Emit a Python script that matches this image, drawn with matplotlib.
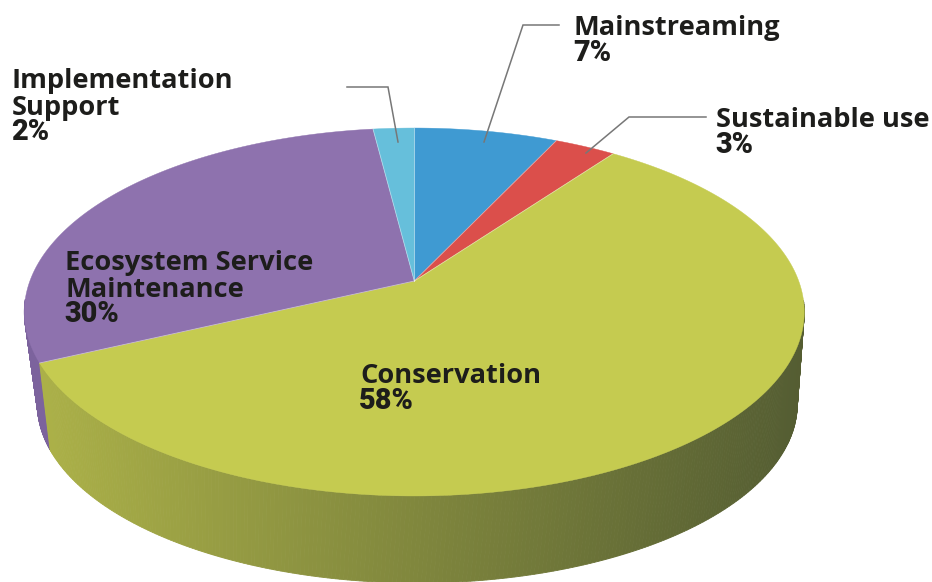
import matplotlib
matplotlib.use('Agg')
import matplotlib.pyplot as plt
import numpy as np

NAMES = ['Mainstreaming', 'Sustainable use', 'Conservation', 'Ecosystem Service\nMaintenance', 'Implementation\nSupport']
VALUES = [7, 3, 58, 30, 2]
COLORS = ['#3f9ad2', '#db4f4b', '#c5cb50', '#8e72ae', '#66bfdb']
LABEL_POS = [(574, 35), (716, 127), (360, 383), (65, 270), (12, 88)]
LEADERS = [
    [(559, 25), (523, 25), (484, 142)],
    [(706, 117), (629, 117), (586, 153)],
    None,
    None,
    [(347, 87), (388, 87), (398, 142)],
]

# perspective of the pie top, in pixels
CX, APEX_Y, R = 414.3, 281, 384.4
K, A = 0.1685, -131.4


def project(theta):
    # theta clockwise from 12 o'clock
    u, v = np.sin(theta), np.cos(theta)
    d = 1 + K * v
    return CX + R * u / d, (A * v + APEX_Y) / d


def lower(theta):
    # rim of the bottom face, nudged so the seam lands where it does in the picture
    x, y = project(theta + 0.02)
    return 418 + (x - 415) * 380 / 390, 404 + (y - 312) * 179 / 184


def side_color(x, base):
    t = np.clip((x - 40) / 760, 0, 1)
    light = np.array([0.87, 0.87, 0.90])
    dark = np.array([0.43, 0.46, 0.63])
    return tuple(np.array(base) * (light + (dark - light) * t))


fig = plt.figure(figsize=(9.32, 5.82), dpi=100)
ax = fig.add_axes([0, 0, 1, 1])
ax.set_xlim(0, 932)
ax.set_ylim(582, 0)
ax.axis('off')

edges = np.cumsum([0] + VALUES) / sum(VALUES) * 2 * np.pi

# side walls, purple first so the yellow one sits in front
for i in [3, 2]:
    base = matplotlib.colors.to_rgb(COLORS[i])
    th = np.linspace(edges[i], edges[i + 1], 400)
    x, y = project(th)
    xb, yb = lower(th)
    for j in range(len(th) - 1):
        if np.cos(th[j]) > -0.1:
            continue
        ax.fill([x[j], x[j + 1], xb[j + 1], xb[j]], [y[j], y[j + 1], yb[j + 1], yb[j]],
                color=side_color(x[j], base), lw=0.6)

# top face
for i in range(len(VALUES)):
    th = np.linspace(edges[i], edges[i + 1], 200)
    x, y = project(th)
    ax.fill(np.r_[CX, x], np.r_[APEX_Y, y], color=COLORS[i], lw=0.3)
for e in edges[:-1]:
    x, y = project(e)
    ax.plot([CX, x], [APEX_Y, y], color='white', alpha=0.45, lw=0.6)

for pts in LEADERS:
    if pts:
        ax.plot(*zip(*pts), color='#777777', lw=1.1, solid_joinstyle='miter')

for name, val, (x, y) in zip(NAMES, VALUES, LABEL_POS):
    lines = name.split('\n')
    for k, line in enumerate(lines):
        ax.text(x, y + k * 26.6, line, fontsize=19.6, family='Open Sans', weight='bold',
                color='#1d1d1b', va='baseline', ha='left')
    ax.text(x - 1, y + len(lines) * 26.6 - 1, f'{val}%', fontsize=20.8, family='Roboto', weight='black',
            color='#1d1d1b', va='baseline', ha='left')

fig.savefig('out.png', dpi=100)
